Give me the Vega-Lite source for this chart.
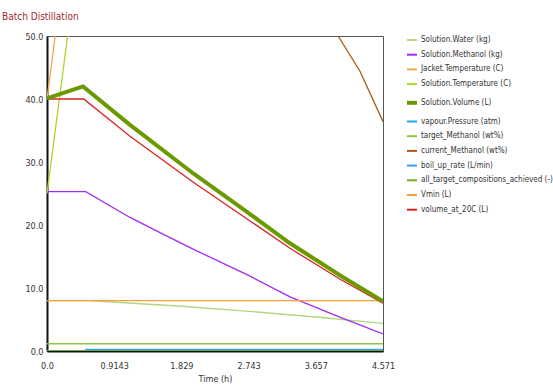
{
  "$schema": "https://vega.github.io/schema/vega-lite/v6.json",
  "width": 336,
  "height": 315,
  "autosize": {"type": "none"},
  "padding": {"left": 47, "top": 36, "right": 170, "bottom": 34},
  "background": "white",
  "title": {
    "text": "Batch Distillation",
    "anchor": "start",
    "frame": "group",
    "dx": -45,
    "offset": 10,
    "fontSize": 10,
    "fontWeight": "normal",
    "font": "DejaVu Sans Condensed",
    "color": "#a0282d"
  },
  "config": {
    "view": {"stroke": "#555", "strokeWidth": 1},
    "font": "DejaVu Sans Condensed"
  },
  "datasets": {
    "d": [
      {"t": 0, "series": "Solution.Water (kg)", "v": 8.0},
      {"t": 0.55, "series": "Solution.Water (kg)", "v": 8.0},
      {"t": 1.0, "series": "Solution.Water (kg)", "v": 7.7},
      {"t": 1.829, "series": "Solution.Water (kg)", "v": 7.1},
      {"t": 2.743, "series": "Solution.Water (kg)", "v": 6.3},
      {"t": 3.657, "series": "Solution.Water (kg)", "v": 5.4},
      {"t": 4.571, "series": "Solution.Water (kg)", "v": 4.4},

      {"t": 0, "series": "Solution.Methanol (kg)", "v": 25.3},
      {"t": 0.527, "series": "Solution.Methanol (kg)", "v": 25.3},
      {"t": 1.129, "series": "Solution.Methanol (kg)", "v": 21.2},
      {"t": 1.537, "series": "Solution.Methanol (kg)", "v": 18.8},
      {"t": 2.0, "series": "Solution.Methanol (kg)", "v": 16.1},
      {"t": 2.743, "series": "Solution.Methanol (kg)", "v": 12.0},
      {"t": 3.306, "series": "Solution.Methanol (kg)", "v": 8.6},
      {"t": 4.0, "series": "Solution.Methanol (kg)", "v": 5.3},
      {"t": 4.571, "series": "Solution.Methanol (kg)", "v": 2.7},

      {"t": 0, "series": "Jacket.Temperature (C)", "v": 40},
      {"t": 0.3, "series": "Jacket.Temperature (C)", "v": 67},
      {"t": 4.571, "series": "Jacket.Temperature (C)", "v": 70},

      {"t": 0, "series": "Solution.Temperature (C)", "v": 25},
      {"t": 0.46, "series": "Solution.Temperature (C)", "v": 66},
      {"t": 4.571, "series": "Solution.Temperature (C)", "v": 68},

      {"t": 0, "series": "Solution.Volume (L)", "v": 40.1},
      {"t": 0.49, "series": "Solution.Volume (L)", "v": 42.0},
      {"t": 1.129, "series": "Solution.Volume (L)", "v": 35.9},
      {"t": 2.0, "series": "Solution.Volume (L)", "v": 28.1},
      {"t": 2.743, "series": "Solution.Volume (L)", "v": 21.9},
      {"t": 3.306, "series": "Solution.Volume (L)", "v": 17.1},
      {"t": 4.0, "series": "Solution.Volume (L)", "v": 11.9},
      {"t": 4.571, "series": "Solution.Volume (L)", "v": 7.9},

      {"t": 0, "series": "vapour.Pressure (atm)", "v": 0},
      {"t": 4.571, "series": "vapour.Pressure (atm)", "v": 0},

      {"t": 0, "series": "target_Methanol (wt%)", "v": 1.15},
      {"t": 4.571, "series": "target_Methanol (wt%)", "v": 1.15},

      {"t": 3.0, "series": "current_Methanol (wt%)", "v": 63},
      {"t": 3.5, "series": "current_Methanol (wt%)", "v": 57},
      {"t": 3.96, "series": "current_Methanol (wt%)", "v": 50},
      {"t": 4.258, "series": "current_Methanol (wt%)", "v": 44.4},
      {"t": 4.571, "series": "current_Methanol (wt%)", "v": 36.4},

      {"t": 0, "series": "boil_up_rate (L/min)", "v": 0},
      {"t": 0.52, "series": "boil_up_rate (L/min)", "v": 0},
      {"t": 0.53, "series": "boil_up_rate (L/min)", "v": 0.25},
      {"t": 4.571, "series": "boil_up_rate (L/min)", "v": 0.25},

      {"t": 0, "series": "all_target_compositions_achieved (-)", "v": 0},
      {"t": 4.571, "series": "all_target_compositions_achieved (-)", "v": 0},

      {"t": 0, "series": "Vmin (L)", "v": 8.0},
      {"t": 4.571, "series": "Vmin (L)", "v": 8.0},

      {"t": 0, "series": "volume_at_20C (L)", "v": 40.0},
      {"t": 0.5, "series": "volume_at_20C (L)", "v": 40.0},
      {"t": 1.129, "series": "volume_at_20C (L)", "v": 34.1},
      {"t": 2.0, "series": "volume_at_20C (L)", "v": 26.7},
      {"t": 2.743, "series": "volume_at_20C (L)", "v": 20.8},
      {"t": 3.306, "series": "volume_at_20C (L)", "v": 16.3},
      {"t": 4.0, "series": "volume_at_20C (L)", "v": 11.3},
      {"t": 4.571, "series": "volume_at_20C (L)", "v": 7.6}
    ]
  },
  "data": {"name": "d"},
  "encoding": {
    "x": {
      "field": "t",
      "type": "quantitative",
      "scale": {"domain": [0, 4.571], "nice": false, "zero": false},
      "axis": {
        "title": "Time (h)",
        "values": [0, 0.9143, 1.829, 2.743, 3.657, 4.571],
        "labelExpr": "datum.value === 0 ? '0.0' : '' + datum.value",
        "grid": false,
        "ticks": false,
        "domainColor": "#111",
        "domainWidth": 2,
        "labelFontSize": 9,
        "labelColor": "#333",
        "labelPadding": 10,
        "labelFlush": false,
        "titleFontSize": 9,
        "titleFontWeight": "normal",
        "titleColor": "#333",
        "titlePadding": 4
      }
    },
    "y": {
      "field": "v",
      "type": "quantitative",
      "scale": {"domain": [0, 50], "nice": false},
      "axis": {
        "title": null,
        "values": [0, 10, 20, 30, 40, 50],
        "format": ".1f",
        "grid": false,
        "ticks": false,
        "domainColor": "#111",
        "domainWidth": 2,
        "labelFontSize": 9,
        "labelColor": "#333",
        "labelPadding": 4
      }
    },
    "color": {
      "field": "series",
      "type": "nominal",
      "scale": {
        "domain": [
          "Solution.Water (kg)",
          "Solution.Methanol (kg)",
          "Jacket.Temperature (C)",
          "Solution.Temperature (C)",
          "Solution.Volume (L)",
          "vapour.Pressure (atm)",
          "target_Methanol (wt%)",
          "current_Methanol (wt%)",
          "boil_up_rate (L/min)",
          "all_target_compositions_achieved (-)",
          "Vmin (L)",
          "volume_at_20C (L)"
        ],
        "range": [
          "#b3d67f",
          "#a52cf0",
          "#f5a64a",
          "#a8d82a",
          "#6a9a00",
          "#1ea8f0",
          "#8cc63f",
          "#b05a10",
          "#3aa0e8",
          "#7aad20",
          "#f5a040",
          "#dd2020"
        ]
      },
      "legend": {
        "title": null,
        "orient": "none",
        "legendX": 361,
        "legendY": 0,
        "symbolType": "stroke",
        "symbolSize": 100,
        "symbolStrokeWidth": 2,
        "labelFontSize": 8,
        "labelColor": "#333",
        "labelLimit": 200,
        "rowPadding": 6.7,
        "labelOffset": 5,
        "encode": {
          "symbols": {
            "update": {
              "strokeWidth": {"signal": "datum.value === 'Solution.Volume (L)' ? 4 : 2"}
            }
          }
        }
      }
    }
  },
  "layer": [
    {
      "transform": [{"filter": "datum.series !== 'Solution.Volume (L)'"}],
      "mark": {"type": "line", "clip": true, "strokeWidth": 1.3}
    },
    {
      "transform": [{"filter": "datum.series === 'Solution.Volume (L)'"}],
      "mark": {"type": "line", "clip": true, "strokeWidth": 4}
    }
  ]
}
